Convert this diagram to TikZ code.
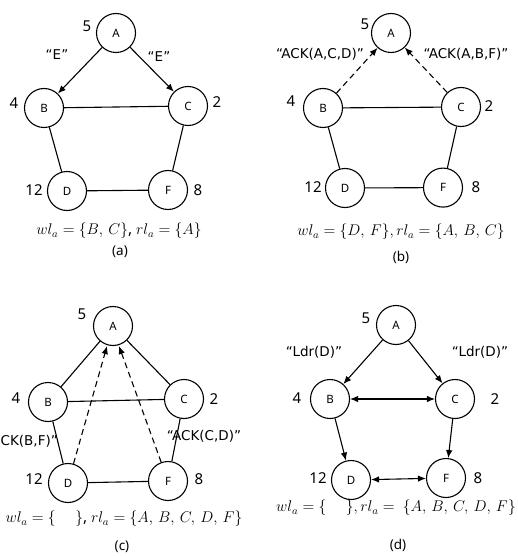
\RequirePackage{fix-cm}
\documentclass[tikz,border=0pt]{standalone}
\usepackage{fontspec}
\setmainfont{Noto Sans}
\newfontfamily\msgfont{DejaVu Sans}
\usetikzlibrary{arrows.meta}
\begin{document}
\begin{tikzpicture}[x=1pt,y=-1pt,
 nd/.style={circle,draw,line width=1.1pt,minimum size=39pt,inner sep=0pt,font=\fontsize{11.5}{13}\selectfont},
 num/.style={font=\fontsize{15}{17}\selectfont,inner sep=0pt},
 msg/.style={font=\msgfont\fontsize{13.5}{15}\selectfont,inner sep=0pt},
 frm/.style={font=\fontsize{15.5}{17}\selectfont,inner sep=0pt},
 captxt/.style={font=\fontsize{13.5}{15}\selectfont,inner sep=0pt},
 ln/.style={line width=1.1pt},
 arr/.style={ln,-{Latex[length=8pt,width=6.5pt]}},
 darr/.style={arr,dash pattern=on 6pt off 4pt},
 biarr/.style={ln,{Latex[length=8pt,width=6.5pt]}-{Latex[length=8pt,width=6.5pt]}}
]
\useasboundingbox (0,0) rectangle (518,556);

% ---------- (a) ----------
\node[nd] (aA) at (116,33) {A};
\node[nd] (aB) at (44,108) {B};
\node[nd] (aC) at (188,106) {C};
\node[nd] (aD) at (67,191) {D};
\node[nd] (aF) at (168,190) {F};
\node[num] (an5) at (87,26) {5};
\node[num] (an4) at (14,103) {4};
\node[num] (an2) at (217,102) {2};
\node[num] (an12) at (34,190) {12};
\node[num] (an8) at (198,190) {8};
\draw[arr] (aA) -- (aB);
\draw[arr] (aA) -- (aC);
\draw[ln] (aB) -- (aC);
\draw[ln] (aB) -- (aD);
\draw[ln] (aC) -- (aF);
\draw[ln] (aD) -- (aF);
\node[msg] (aE1) at (57,55) {“E”};
\node[msg] (aE2) at (159,57) {“E”};
\node[frm] (afm) at (119,231) {$wl_a=\{B,\,C\}$, $rl_a=\{A\}$};
\node[captxt] (acap) at (120,252) {(a)};

% ---------- (b) ----------
\node[nd] (bA) at (391,33) {A};
\node[nd] (bB) at (323,108) {B};
\node[nd] (bC) at (461,107) {C};
\node[nd] (bD) at (345,188) {D};
\node[nd] (bF) at (443,187.6) {F};
\node[num] (bn5) at (365,24) {5};
\node[num] (bn4) at (291,101) {4};
\node[num] (bn2) at (489,106) {2};
\node[num] (bn12) at (313,187) {12};
\node[num] (bn8) at (476,187) {8};
\draw[darr] (bB) -- (bA);
\draw[darr] (bC) -- (bA);
\draw[ln] (bB) -- (bC);
\draw[ln] (bB) -- (bD);
\draw[ln] (bC) -- (bF);
\draw[ln] (bD) -- (bF);
\node[msg] (bm1) at (320,54) {“ACK(A,C,D)”};
\node[msg] (bm2) at (466,54) {“ACK(A,B,F)”};
\node[frm] (bfm) at (401,232) {$wl_a=\{D,\,F\}, rl_a=\{A,\,B,\,C\}$};
\node[captxt] (bcap) at (401,257) {(b)};

% ---------- (c) ----------
\node[nd] (cA) at (113,326) {A};
\node[nd] (cB) at (48,402) {B};
\node[nd] (cC) at (184,399) {C};
\node[nd] (cD) at (68,483) {D};
\node[nd] (cF) at (168,481) {F};
\node[num] (cn5) at (82,314) {5};
\node[num] (cn4) at (16,398) {4};
\node[num] (cn2) at (214,399) {2};
\node[num] (cn12) at (34,479) {12};
\node[num] (cn8) at (199,479) {8};
\draw[ln] (cA) -- (cB);
\draw[ln] (cA) -- (cC);
\draw[ln] (cB) -- (cC);
\draw[ln] (cB) -- (cD);
\draw[ln] (cC) -- (cF);
\draw[ln] (cD) -- (cF);
\draw[darr] (cD) -- ([xshift=-6pt]cA.south);
\draw[darr] (cF) -- ([xshift=6pt]cA.south);
\node[msg,anchor=east] (cm1) at (58,441) {CK(B,F)”};
\node[msg] (cm2) at (204,436) {“ACK(C,D)”};
\node[frm] (cfm) at (124,519) {$wl_a=\{\quad\ \}$, $rl_a=\{A,\,B,\,C,\,D,\,F\}$};
\node[captxt] (ccap) at (122,547) {(c)};

% ---------- (d) ----------
\node[nd] (dA) at (396,325) {A};
\node[nd] (dB) at (330,399) {B};
\node[nd] (dC) at (455,399) {C};
\node[nd] (dD) at (351,480) {D};
\node[nd] (dF) at (446,478) {F};
\node[num] (dn5) at (366,318) {5};
\node[num] (dn4) at (297,398) {4};
\node[num] (dn2) at (495,399) {2};
\node[num] (dn12) at (318,478) {12};
\node[num] (dn8) at (478,478) {8};
\draw[arr] (dA) -- (dB);
\draw[arr] (dA) -- (dC);
\draw[biarr] (dB) -- (dC);
\draw[arr] (dB) -- (dD);
\draw[arr] (dC) -- (dF);
\draw[biarr] (dD) -- (dF);
\node[msg] (dm1) at (314,352) {“Ldr(D)”};
\node[msg] (dm2) at (480,352) {“Ldr(D)”};
\node[frm] (dfm) at (396,508) {$wl_a=\{\quad\ \}, rl_a=\ \{A,\,B,\,C,\,D,\,F\}$};
\node[captxt] (dcap) at (398,545) {(d)};
\end{tikzpicture}
\end{document}
